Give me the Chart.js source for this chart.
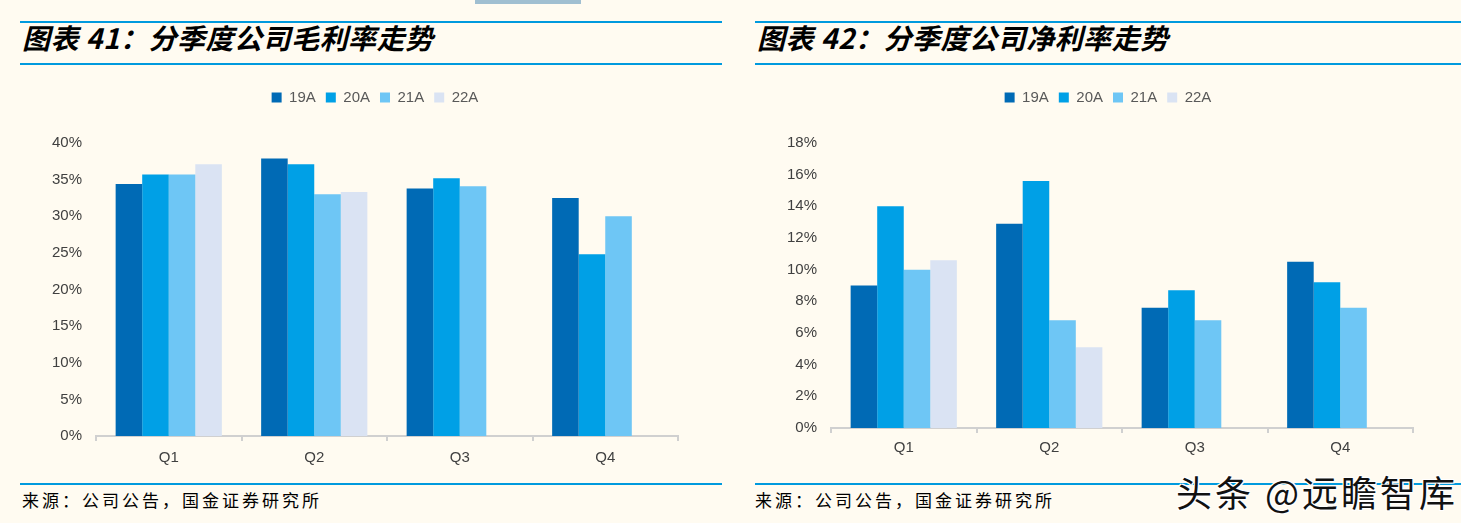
<!DOCTYPE html>
<html lang="zh">
<head>
<meta charset="UTF-8">
<title>分季度公司毛利率 / 净利率走势</title>
<script src="https://cdn.jsdelivr.net/npm/chart.js"></script>
<style>
  body { margin: 0; width: 1461px; height: 523px; background: #fffbf1; position: relative; overflow: hidden; font-family: "Liberation Sans", Arial, sans-serif; }
  .strip { position: absolute; left: 475px; top: 0; width: 106px; height: 4px; background: #a0bfd1; }
  .rule { position: absolute; height: 2px; background: #009ade; }
  .title { position: absolute; top: 19px; font-family: "Noto Sans CJK SC", sans-serif; font-weight: bold; font-style: italic; font-size: 28px; letter-spacing: 0.5px; color: #000; line-height: 36px; }
  .source { position: absolute; top: 487px; font-family: "Noto Sans CJK SC", sans-serif; font-size: 17px; letter-spacing: 3px; color: #000; }
  .box { position: absolute; }
  .mark { position: absolute; left: 1176px; top: 465px; font-family: "Noto Sans CJK SC", sans-serif; font-size: 36px; letter-spacing: 3px; color: #111;
          text-shadow: -1px -1px 0 #fff, 1px -1px 0 #fff, -1px 1px 0 #fff, 1px 1px 0 #fff; }
</style>
</head>
<body>
<div class="strip"></div>

<div class="rule" style="left:20px;width:702px;top:21px"></div>
<div class="rule" style="left:20px;width:702px;top:63px"></div>
<div class="title" style="left:22px">图表 41：分季度公司毛利率走势</div>

<div class="rule" style="left:755px;width:706px;top:21px"></div>
<div class="rule" style="left:755px;width:706px;top:63px"></div>
<div class="title" style="left:757px">图表 42：分季度公司净利率走势</div>

<div class="box" style="left:20px;top:80px;width:700px;height:392px"><canvas id="gross"></canvas></div>
<div class="box" style="left:755px;top:80px;width:706px;height:384px"><canvas id="net"></canvas></div>

<div class="rule" style="left:20px;width:702px;top:483px"></div>
<div class="rule" style="left:755px;width:706px;top:483px"></div>
<div class="source" style="left:22px">来源：公司公告，国金证券研究所</div>
<div class="source" style="left:755px">来源：公司公告，国金证券研究所</div>
<div class="mark">头条 @远瞻智库</div>

<script>
const quarters = ['Q1', 'Q2', 'Q3', 'Q4'];
const years = ['19A', '20A', '21A', '22A'];
const colors = ['#006ab5', '#00a0e6', '#6ec6f5', '#dae3f3'];

// 毛利率 (%)
const gross19 = [34.4, 37.9, 33.8, 32.5];
const gross20 = [35.7, 37.1, 35.2, 24.8];
const gross21 = [35.7, 33.0, 34.1, 30.0];
const gross22 = [37.1, 33.3, null, null];

// 净利率 (%)
const net19 = [9.0, 12.9, 7.6, 10.5];
const net20 = [14.0, 15.6, 8.7, 9.2];
const net21 = [10.0, 6.8, 6.8, 7.6];
const net22 = [10.6, 5.1, null, null];

const grossTicks = [0, 5, 10, 15, 20, 25, 30, 35, 40];
const netTicks = [0, 2, 4, 6, 8, 10, 12, 14, 16, 18];

Chart.defaults.font.family = '"Liberation Sans", Arial, sans-serif';
Chart.defaults.color = '#595959';

// extra space under the legend, and a small sideways nudge so it sits centred like the original
function legendTweak(extra, shift) {
  return {
    id: 'legendTweak',
    beforeInit(chart) {
      const lg = chart.legend;
      const fit = lg.fit;
      lg.fit = function () {
        fit.bind(lg)();
        this.height += extra;
      };
      const draw = lg.draw;
      lg.draw = function () {
        this.ctx.save();
        this.ctx.translate(shift, 0);
        draw.apply(lg, arguments);
        this.ctx.restore();
      };
    }
  };
}

function makeChart(id, series, ticks, step, labelPad, gap, shift, rightPad) {
  new Chart(document.getElementById(id), {
    type: 'bar',
    data: {
      labels: quarters,
      datasets: series.map((d, i) => ({
        label: years[i],
        data: d,
        backgroundColor: colors[i],
        barPercentage: 1,
        categoryPercentage: 0.73
      }))
    },
    options: {
      responsive: true,
      maintainAspectRatio: false,
      animation: false,
      layout: { padding: { top: 0, right: rightPad, left: 0, bottom: 0 } },
      plugins: {
        legend: {
          position: 'top',
          labels: { boxWidth: 10, boxHeight: 10, padding: 10, font: { size: 15 }, color: '#595959' }
        },
        tooltip: { enabled: false }
      },
      scales: {
        x: {
          grid: { drawOnChartArea: false, drawTicks: true, tickLength: 5, color: '#d0d0d0', lineWidth: 2 },
          border: { color: '#d0d0d0', width: 2 },
          ticks: { padding: labelPad, font: { size: 15 }, color: '#404040' },
          afterFit(s) { s.height = 36; }
        },
        y: {
          min: 0,
          max: ticks[ticks.length - 1],
          grid: { display: false },
          border: { display: false },
          afterBuildTicks(s) { s.ticks = ticks.map(v => ({ value: v })); },
          ticks: { stepSize: step, padding: 6, font: { size: 15 }, color: '#404040', callback: v => v + '%' },
          afterFit(s) { s.width = 76; }
        }
      }
    },
    plugins: [legendTweak(gap, shift)]
  });
}

makeChart('gross', [gross19, gross20, gross21, gross22], grossTicks, 5, 8, 28, 26, 42);
makeChart('net', [net19, net20, net21, net22], netTicks, 2, 6, 28, 24, 48);
</script>
</body>
</html>
